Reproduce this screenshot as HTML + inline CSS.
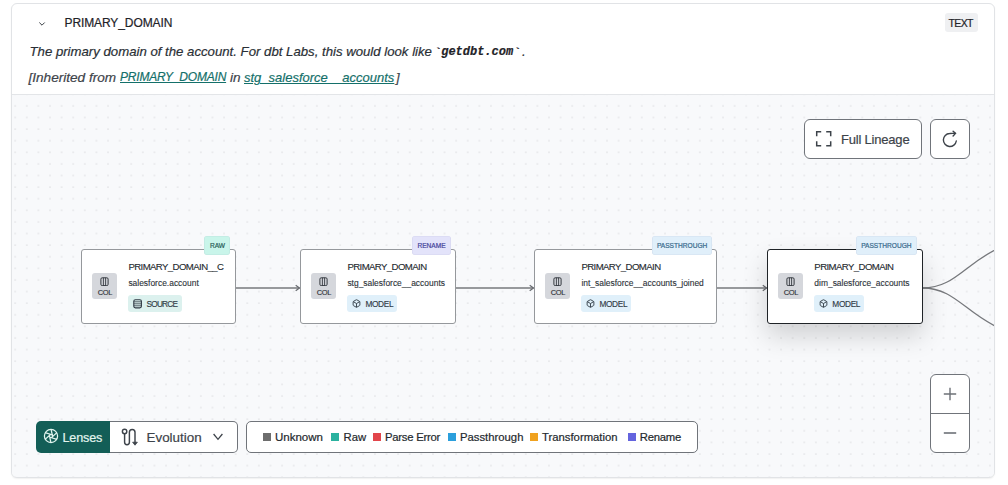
<!DOCTYPE html>
<html><head><meta charset="utf-8">
<style>
*{box-sizing:border-box;margin:0;padding:0}
.t{-webkit-text-stroke:0.2px currentColor}
.ttl,.sub,.mb span,.tb span,.coltxt{-webkit-text-stroke:0.12px currentColor}
html,body{width:1008px;height:485px;overflow:hidden;background:#fff;font-family:"Liberation Sans",sans-serif;color:#1f2328}
.t{position:absolute;white-space:pre;line-height:1}
#card{position:absolute;left:11px;top:3px;width:984px;height:475px;border:1px solid #e1e3e6;border-radius:6px;overflow:hidden;background:#fff;box-shadow:0 1px 1.5px rgba(0,0,0,0.06)}
#canvas{position:absolute;left:12px;top:94px;width:982px;height:383px;overflow:hidden;border-radius:0 0 5px 5px}
.node{position:absolute;top:248.7px;height:75px;background:#fff;border:1px solid #95989c;border-radius:3px}
.col{position:absolute;left:10.2px;top:23.3px;width:25px;height:26px;background:#d5d7dc;border-radius:3px}
.ttl{position:absolute;left:46.5px;top:12.7px;font-size:9.6px;letter-spacing:-0.58px;color:#24292e;white-space:pre;line-height:1}
.sub{position:absolute;left:46.5px;top:28.9px;font-size:8.45px;color:#2d3339;white-space:pre;line-height:1}
.mb{position:absolute;left:46.5px;top:45.3px;height:17px;border-radius:3px}
.mb span{position:absolute;left:18px;top:5px;font-size:8.3px;letter-spacing:-0.35px;color:#2f3a44;line-height:1;white-space:pre}
.coltxt{position:absolute;left:0.3px;width:25px;top:16.4px;text-align:center;font-size:7.5px;letter-spacing:-0.35px;line-height:1;color:#2b2f35}
.tb{position:absolute;top:-13.5px;height:18.8px;border-radius:3px;box-shadow:inset 0 0 0 0.6px rgba(60,60,120,0.08)}
.tb span{position:absolute;top:6.6px;font-size:6.6px;line-height:1;white-space:pre;-webkit-text-stroke:0.2px currentColor}
.btn{position:absolute;background:#fff;border:1.3px solid #70747a;border-radius:6px}
</style></head><body>
<div id="card"></div>

<!-- header -->
<svg class="t" style="left:37px;top:19px" width="10" height="10" viewBox="0 0 10 10"><path d="M2.3 3.5 L5 6.2 L7.7 3.5" fill="none" stroke="#3a3f45" stroke-width="1"/></svg>
<div class="t" style="left:64.5px;top:17px;font-size:12px;letter-spacing:-0.1px;color:#1f2328">PRIMARY_DOMAIN</div>
<div class="t" style="left:945px;top:13px;width:33px;height:19px;background:#eff0f2;border-radius:3px"></div>
<div class="t" style="left:948.5px;top:17.5px;font-size:10.5px;letter-spacing:-0.6px;color:#1f2328">TEXT</div>

<div class="t" style="left:29.5px;top:44.8px;font-size:13.2px;font-style:italic;color:#2a2f35">The primary domain of the account. For dbt Labs, this would look like </div>
<div class="t" style="left:434px;top:46px;font-family:'Liberation Mono';font-size:12px;font-weight:700;font-style:italic;color:#1f2328"> getdbt.com </div>
<div class="t" style="left:434px;top:47.6px;font-family:'Liberation Mono';font-size:12px;font-weight:700;font-style:italic;color:#1f2328">`</div>
<div class="t" style="left:513.2px;top:47.6px;font-family:'Liberation Mono';font-size:12px;font-weight:700;font-style:italic;color:#1f2328">`</div>
<div class="t" style="left:522px;top:44.8px;font-size:13.2px;font-style:italic;color:#2a2f35">.</div>

<div class="t" style="left:28.5px;top:70.6px;font-size:13.6px;font-style:italic;color:#3d434a">[Inherited from</div>
<div class="t" style="left:120px;top:71px;font-size:12px;letter-spacing:-0.2px;font-style:italic;color:#14706a;text-decoration:underline;text-underline-offset:1px;text-decoration-thickness:1px">PRIMARY_DOMAIN</div>
<div class="t" style="left:230px;top:70.6px;font-size:13.6px;font-style:italic;color:#3d434a">in</div>
<div class="t" style="left:244px;top:70.6px;font-size:13px;font-style:italic;color:#14706a;text-decoration:underline;text-underline-offset:1px;text-decoration-thickness:1px">stg_salesforce__accounts</div>
<div class="t" style="left:396px;top:70.6px;font-size:13px;font-style:italic;color:#3d434a">]</div>

<!-- canvas -->
<div id="canvas">
<svg width="982" height="384" style="position:absolute;left:0;top:0">
<defs>
<pattern id="dots" patternUnits="userSpaceOnUse" width="11.604" height="11.604" x="3.2" y="11.8">
<circle cx="0" cy="0" r="0.55" fill="#b9bcc0"/><circle cx="11.604" cy="0" r="0.55" fill="#b9bcc0"/><circle cx="0" cy="11.604" r="0.55" fill="#b9bcc0"/><circle cx="11.604" cy="11.604" r="0.55" fill="#b9bcc0"/>
</pattern>
<marker id="arr" markerWidth="8" markerHeight="8" refX="6" refY="4" orient="auto" markerUnits="userSpaceOnUse"><path d="M2.2 1.3 L6 4 L2.2 6.7" fill="none" stroke="#66696e" stroke-width="1.2"/></marker>
</defs>
<rect width="982" height="384" fill="#f8f9fb"/>
<rect width="982" height="384" fill="url(#dots)"/>
<line x1="0" y1="0.5" x2="982" y2="0.5" stroke="#e3e5e8" stroke-width="1"/>
<!-- edges -->
<g fill="none" stroke="#77797d" stroke-width="1.3">
<path d="M223.5 194 L287.5 194" marker-end="url(#arr)"/>
<path d="M443.5 194 L521.5 194" marker-end="url(#arr)"/>
<path d="M705 194 L754.6 194" marker-end="url(#arr)"/>
<path d="M910.5 194 C958 194 958 139.5 1063 139.5"/>
<path d="M910.5 194 C958 194 958 248.5 1063 248.5"/>
</g>
</svg>
</div>
<!-- nodes -->
<div class="node" style="left:80.9px;width:155.1px">
  <div class="col"><svg style="position:absolute;left:8px;top:4px" width="9" height="9" viewBox="0 0 9 9"><rect x="0.9" y="0.8" width="7.2" height="7.8" rx="1.3" fill="none" stroke="#33383e" stroke-width="1"/><path d="M3.4 0.8V8.6M5.6 0.8V8.6" stroke="#33383e" stroke-width="0.9"/></svg><div class="coltxt">COL</div></div>
  <div class="ttl">PRIMARY_DOMAIN__C</div>
  <div class="sub">salesforce.account</div>
  <div class="mb" style="width:54px;background:#dcf1ee"><svg style="position:absolute;left:5px;top:4px" width="9" height="10" viewBox="0 0 9 10"><g fill="none" stroke="#2f3a44" stroke-width="1.1"><rect x="0.8" y="0.7" width="7.6" height="8.2" rx="1.6"/><path d="M0.8 2.8H8.4M0.8 4.8H8.4M0.8 6.8H8.4" stroke-width="0.8"/></g></svg><span style="letter-spacing:-0.75px">SOURCE</span></div>
  <div class="tb" style="left:122px;width:26.6px;background:#c9f5ea"><span style="left:6px;color:#285e57">RAW</span></div>
</div>
<div class="node" style="left:299.9px;width:156.1px">
  <div class="col"><svg style="position:absolute;left:8px;top:4px" width="9" height="9" viewBox="0 0 9 9"><rect x="0.9" y="0.8" width="7.2" height="7.8" rx="1.3" fill="none" stroke="#33383e" stroke-width="1"/><path d="M3.4 0.8V8.6M5.6 0.8V8.6" stroke="#33383e" stroke-width="0.9"/></svg><div class="coltxt">COL</div></div>
  <div class="ttl">PRIMARY_DOMAIN</div>
  <div class="sub">stg_salesforce__accounts</div>
  <div class="mb" style="width:50px;background:#e0f0fa"><svg style="position:absolute;left:5px;top:4px" width="9" height="9" viewBox="0 0 24 24"><g fill="none" stroke="#2f3a44" stroke-width="2.4" stroke-linejoin="round"><path d="M21 8a2 2 0 0 0-1-1.73l-7-4a2 2 0 0 0-2 0l-7 4A2 2 0 0 0 3 8v8a2 2 0 0 0 1 1.73l7 4a2 2 0 0 0 2 0l7-4A2 2 0 0 0 21 16Z"/><path d="m3.3 7 8.7 5 8.7-5"/><path d="M12 22V12"/></g></svg><span>MODEL</span></div>
  <div class="tb" style="left:111px;width:39px;background:#e3e3fa"><span style="left:5.5px;color:#44449a">RENAME</span></div>
</div>
<div class="node" style="left:533.9px;width:183.3px">
  <div class="col"><svg style="position:absolute;left:8px;top:4px" width="9" height="9" viewBox="0 0 9 9"><rect x="0.9" y="0.8" width="7.2" height="7.8" rx="1.3" fill="none" stroke="#33383e" stroke-width="1"/><path d="M3.4 0.8V8.6M5.6 0.8V8.6" stroke="#33383e" stroke-width="0.9"/></svg><div class="coltxt">COL</div></div>
  <div class="ttl">PRIMARY_DOMAIN</div>
  <div class="sub">int_salesforce__accounts_joined</div>
  <div class="mb" style="width:50px;background:#e0f0fa"><svg style="position:absolute;left:5px;top:4px" width="9" height="9" viewBox="0 0 24 24"><g fill="none" stroke="#2f3a44" stroke-width="2.4" stroke-linejoin="round"><path d="M21 8a2 2 0 0 0-1-1.73l-7-4a2 2 0 0 0-2 0l-7 4A2 2 0 0 0 3 8v8a2 2 0 0 0 1 1.73l7 4a2 2 0 0 0 2 0l7-4A2 2 0 0 0 21 16Z"/><path d="m3.3 7 8.7 5 8.7-5"/><path d="M12 22V12"/></g></svg><span>MODEL</span></div>
  <div class="tb" style="left:116.7px;width:60.6px;background:#e0effa"><span style="left:5.3px;color:#376a8c">PASSTHROUGH</span></div>
</div>
<div class="node" style="left:766.85px;width:156px;border:1.5px solid #1f2327;box-shadow:0 12px 26px rgba(0,0,0,0.16)">
  <div class="col"><svg style="position:absolute;left:8px;top:4px" width="9" height="9" viewBox="0 0 9 9"><rect x="0.9" y="0.8" width="7.2" height="7.8" rx="1.3" fill="none" stroke="#33383e" stroke-width="1"/><path d="M3.4 0.8V8.6M5.6 0.8V8.6" stroke="#33383e" stroke-width="0.9"/></svg><div class="coltxt">COL</div></div>
  <div class="ttl">PRIMARY_DOMAIN</div>
  <div class="sub">dim_salesforce_accounts</div>
  <div class="mb" style="width:50px;background:#e0f0fa"><svg style="position:absolute;left:5px;top:4px" width="9" height="9" viewBox="0 0 24 24"><g fill="none" stroke="#2f3a44" stroke-width="2.4" stroke-linejoin="round"><path d="M21 8a2 2 0 0 0-1-1.73l-7-4a2 2 0 0 0-2 0l-7 4A2 2 0 0 0 3 8v8a2 2 0 0 0 1 1.73l7 4a2 2 0 0 0 2 0l7-4A2 2 0 0 0 21 16Z"/><path d="m3.3 7 8.7 5 8.7-5"/><path d="M12 22V12"/></g></svg><span>MODEL</span></div>
  <div class="tb" style="left:88px;width:61px;background:#e0effa"><span style="left:5.3px;color:#376a8c">PASSTHROUGH</span></div>
</div>

<!-- buttons -->
<div class="btn" style="left:804px;top:119px;width:118px;height:40px"></div>
<div class="t" style="left:841px;top:132.5px;font-size:13px;letter-spacing:-0.2px;color:#3d434a">Full Lineage</div>
<div class="btn" style="left:930px;top:119px;width:40px;height:40px"></div>
<div class="btn" style="left:930px;top:374px;width:40px;height:79px"></div>
<div class="t" style="left:930px;top:413px;width:40px;height:1.3px;background:#70747a"></div>

<div class="t" style="left:36px;top:421px;width:75px;height:32px;background:#135e57;border-radius:5px 0 0 5px"></div>
<div class="t" style="left:62.5px;top:431.5px;font-size:12.6px;letter-spacing:-0.15px;color:#e3f5ef">Lenses</div>
<div class="t" style="left:110px;top:421px;width:128px;height:32px;background:#fff;border:1.3px solid #70747a;border-left:none;border-radius:0 5px 5px 0"></div>
<div class="t" style="left:146.5px;top:430.8px;font-size:13.4px;color:#3d434a">Evolution</div>

<div class="t" style="left:246px;top:421px;width:452px;height:32px;background:#fff;border:1.3px solid #70747a;border-radius:5px"></div>
<div class="t" style="left:263px;top:433px;width:8px;height:8px;background:#6d6d6d"></div>
<div class="t" style="left:275px;top:431.6px;font-size:11.5px;color:#24292e">Unknown</div>
<div class="t" style="left:331px;top:433px;width:8px;height:8px;background:#2bb29f"></div>
<div class="t" style="left:343.5px;top:431.5px;font-size:11.3px;color:#24292e">Raw</div>
<div class="t" style="left:373px;top:433px;width:8px;height:8px;background:#e2454b"></div>
<div class="t" style="left:385px;top:431.5px;font-size:11.3px;letter-spacing:-0.25px;color:#24292e">Parse Error</div>
<div class="t" style="left:448px;top:433px;width:8px;height:8px;background:#2b9fdc"></div>
<div class="t" style="left:460px;top:431.5px;font-size:11.3px;color:#24292e">Passthrough</div>
<div class="t" style="left:530px;top:433px;width:8px;height:8px;background:#f0a21f"></div>
<div class="t" style="left:542px;top:431.5px;font-size:11.3px;color:#24292e">Transformation</div>
<div class="t" style="left:628px;top:433px;width:8px;height:8px;background:#6464de"></div>
<div class="t" style="left:639.8px;top:431.5px;font-size:11.3px;letter-spacing:-0.25px;color:#24292e">Rename</div>

<svg class="t" style="left:814px;top:129px" width="19" height="19" viewBox="0 0 19 19"><g fill="none" stroke="#3d434a" stroke-width="1.5"><path d="M2.7 7.2V2.7H7.2M12.2 2.7H16.7V7.2M16.7 12.2V16.7H12.2M7.2 16.7H2.7V12.2"/></g></svg>
<svg class="t" style="left:940px;top:129px" width="20" height="20" viewBox="0 0 20 20"><g fill="none" stroke="#3d434a" stroke-width="1.4" stroke-linecap="round"><path d="M16.3 12 A6.5 6.5 0 1 1 9.6 4.5 C11.5 4.3 13.5 4.4 15.4 4.4"/><path d="M13.1 2.2 L15.5 4.4 L13.1 6.9"/></g></svg>
<svg class="t" style="left:942px;top:386px" width="16" height="16" viewBox="0 0 16 16"><path d="M8 1.8V14.2M1.8 8H14.2" stroke="#6d7177" stroke-width="1.4"/></svg>
<svg class="t" style="left:942px;top:425px" width="16" height="16" viewBox="0 0 16 16"><path d="M1.8 8H14.2" stroke="#6d7177" stroke-width="1.6"/></svg>
<svg class="t" style="left:43px;top:428px" width="16" height="16" viewBox="-8 -8 16 16"><g fill="none" stroke="#e3f5ef" stroke-width="1.25"><circle cx="0" cy="0" r="6.6"/><path d="M0.00 -6.80L1.73 1.00M5.89 -3.40L0.00 2.00M5.89 3.40L-1.73 1.00M0.00 6.80L-1.73 -1.00M-5.89 3.40L-0.00 -2.00M-5.89 -3.40L1.73 -1.00"/></g></svg>
<svg class="t" style="left:118px;top:425px" width="22" height="24" viewBox="0 0 22 24"><g fill="none" stroke="#3d434a" stroke-width="1.45"><circle cx="6.6" cy="6.5" r="2.2"/><path d="M6.6 8.7V17.3a2.4 2.4 0 0 0 4.8 0V7.2a2.8 2.8 0 0 1 5.6 0V18"/></g><path d="M14.6 17.2H19.4L17 20.2Z" fill="#3d434a" stroke="#3d434a" stroke-width="0.8" stroke-linejoin="round"/></svg>
<svg class="t" style="left:211px;top:431px" width="14" height="12" viewBox="0 0 14 12"><path d="M2.6 3L7 8.3L11.4 3" fill="none" stroke="#3d434a" stroke-width="1.3"/></svg>
</body></html>
